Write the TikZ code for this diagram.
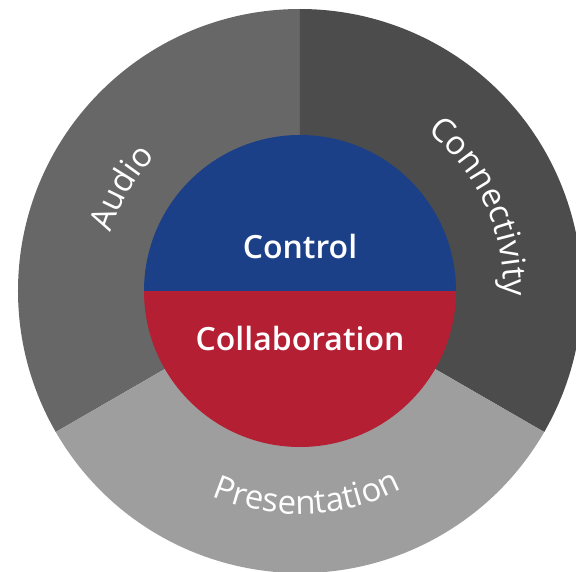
\documentclass[tikz,border=0pt]{standalone}
\usepackage{fontspec}
\setmainfont{Open Sans}
\newfontfamily\semib{Open Sans Semibold}
\usetikzlibrary{decorations.text}
\definecolor{audiogray}{HTML}{676767}
\definecolor{conngray}{HTML}{4B4C4B}
\definecolor{presgray}{HTML}{9E9E9E}
\definecolor{ctrlblue}{HTML}{1B4088}
\definecolor{collred}{HTML}{B51F33}

\begin{document}
\begin{tikzpicture}[%
        x=1pt, y=1pt,
        every node/.style={inner sep=0pt, text=white},
        inlabel/.style={anchor=base, font=\semib\fontsize{32}{32}\selectfont},
        arclabel/.style={postaction={decorate}, decoration={text along path,
          text align=center, text color=white,
          text={|\fontsize{33}{33}\selectfont|#1}}}
      ]
      \useasboundingbox (-300,-280) rectangle (276,291);
      \def\ro{282}
      \def\ri{156}
      \fill [audiogray] (0,0) -- (90:\ro) arc (90:210:\ro) -- cycle;
      \fill [conngray] (0,0) -- (-30:\ro) arc (-30:90:\ro) -- cycle;
      \fill [presgray] (0,0) -- (210:\ro) arc (210:330:\ro) -- cycle;
      \fill [ctrlblue] (\ri,0) arc (0:180:\ri) -- cycle;
      \fill [collred] (-\ri,0) arc (180:360:\ri) -- cycle;
      \path [arclabel=Audio] (182:198) arc (182:118:198);
      \path [arclabel=Connectivity] (62:204) arc (62:-12:204);
      \path [arclabel=Presentation] (235:223) arc (235:309:223);
      \node [inlabel] (control) at (0,33) {Control};
      \node [inlabel] (collab) at (0,-59) {Collaboration};
\end{tikzpicture}
\end{document}
